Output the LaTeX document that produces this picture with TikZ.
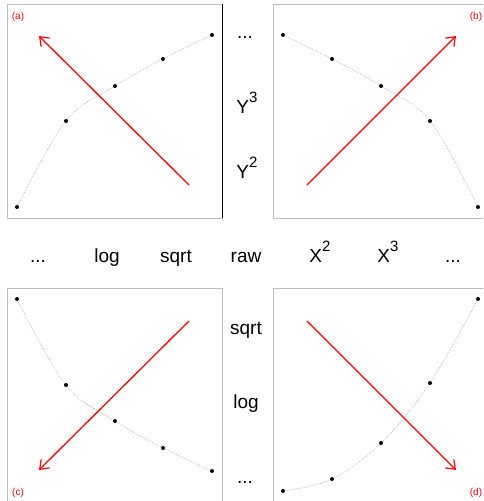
\documentclass[tikz,border=0pt]{standalone}
\usepackage{fontspec}
\setmainfont{Liberation Sans}
\usetikzlibrary{arrows.meta}
\newcommand{\pw}[2]{#1\raisebox{0.55em}{\fontsize{15}{15}\selectfont #2}}

\begin{document}
\begin{tikzpicture}[
  x=1pt,y=-1pt,
  frame/.style={draw=black!25,line width=0.8pt},
  trend/.style={draw=black!45,line width=0.5pt,dash pattern=on 0.6pt off 1.2pt},
  dot/.style={fill=black,circle,inner sep=0pt,minimum size=4pt},
  move/.style={draw=red,line width=1.3pt,-{Straight Barb[length=8pt,width=12pt,line width=1.2pt]}},
  tag/.style={text=red,font=\fontsize{10}{11}\selectfont},
  word/.style={anchor=base,font=\fontsize{19}{22}\selectfont}
]
\useasboundingbox (0,0) rectangle (483,501);
\clip (0,0) rectangle (483,501);
\fill[white] (0,0) rectangle (483,501);

% panels
\draw[frame] (7,4) rectangle (222,218);
\draw[black,line width=0.9pt] (222,4) -- (222,218);
\draw[frame] (273,4) rectangle (490,218);
\draw[frame] (7,288) rectangle (222,510);
\draw[frame] (273,288) rectangle (490,510);

% (a)
\node[tag] (ta) at (18,17) {(a)};
\foreach \i/\x/\y in {1/17/207,2/66/121,3/115/86,4/163/59,5/212/35}
  \coordinate (a\i) at (\x,\y);
\draw[trend] plot[smooth,tension=0.6] coordinates {(a1) (a2) (a3) (a4) (a5)};
\foreach \i in {1,...,5} \node[dot] at (a\i) {};
\coordinate (as) at (189,185);
\coordinate (ae) at (39,36);
\draw[move] (as) -- (ae);

% (b)
\node[tag] (tb) at (476,17) {(b)};
\foreach \i/\x/\y in {1/283/35,2/332/59,3/381/86,4/430/121,5/478/207}
  \coordinate (b\i) at (\x,\y);
\draw[trend] plot[smooth,tension=0.6] coordinates {(b1) (b2) (b3) (b4) (b5)};
\foreach \i in {1,...,5} \node[dot] at (b\i) {};
\coordinate (bs) at (307,185);
\coordinate (be) at (456,36);
\draw[move] (bs) -- (be);

% (c)
\node[tag] (tc) at (18,493) {(c)};
\foreach \i/\x/\y in {1/17/299,2/66/385,3/115/421,4/163/448,5/212/471}
  \coordinate (c\i) at (\x,\y);
\draw[trend] plot[smooth,tension=0.6] coordinates {(c1) (c2) (c3) (c4) (c5)};
\foreach \i in {1,...,5} \node[dot] at (c\i) {};
\coordinate (cs) at (189,321);
\coordinate (ce) at (39,470);
\draw[move] (cs) -- (ce);

% (d)
\node[tag] (td) at (476,493) {(d)};
\foreach \i/\x/\y in {1/283/491,2/332/479,3/381/443,4/430/383,5/478/299}
  \coordinate (d\i) at (\x,\y);
\draw[trend] plot[smooth,tension=0.6] coordinates {(d1) (d2) (d3) (d4) (d5)};
\foreach \i in {1,...,5} \node[dot] at (d\i) {};
\coordinate (ds) at (307,321);
\coordinate (de) at (456,470);
\draw[move] (ds) -- (de);

% ladder of powers
\node[word] (ydots) at (245,38) {...};
\node[word] (ycube) at (247,113) {\pw{Y}{3}};
\node[word] (ysq) at (247,178) {\pw{Y}{2}};
\node[word] (xdotsl) at (38,262) {...};
\node[word] (xlog) at (107,262) {log};
\node[word] (xsqrt) at (176,262) {sqrt};
\node[word] (raw) at (246,262) {raw};
\node[word] (xsq) at (320,262) {\pw{X}{2}};
\node[word] (xcube) at (388,262) {\pw{X}{3}};
\node[word] (xdotsr) at (453,262) {...};
\node[word] (ysqrt) at (246,334) {sqrt};
\node[word] (ylog) at (246,408) {log};
\node[word] (ydotsb) at (245,483) {...};
\end{tikzpicture}
\end{document}
